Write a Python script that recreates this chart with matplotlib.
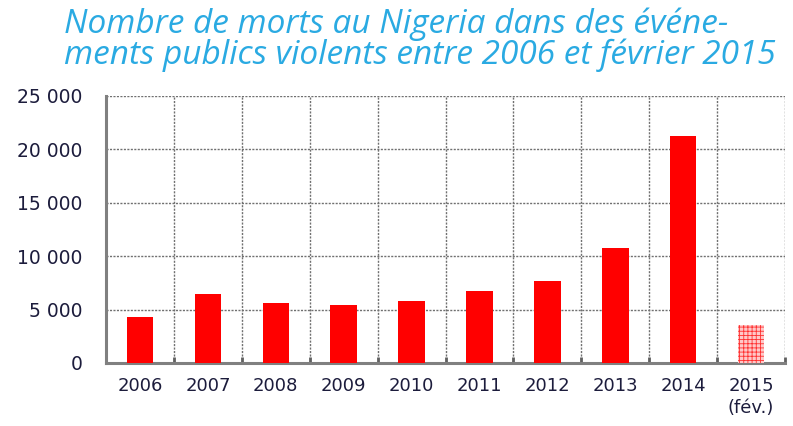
import numpy as np
import matplotlib.pyplot as plt
from matplotlib.ticker import FuncFormatter, MultipleLocator

years = ['2006', '2007', '2008', '2009', '2010', '2011', '2012', '2013', '2014', '2015\n(fév.)']
deaths = [4330, 6430, 5630, 5380, 5780, 6690, 7630, 10790, 21250, 3590]
partial = [False] * 9 + [True]

title_lines = ["Nombre de morts au Nigeria dans des événe-",
               "ments publics violents entre 2006 et février 2015"]

plt.rcParams['hatch.linewidth'] = 0.6
fig = plt.figure(figsize=(7.93, 4.26), dpi=100)
ax = fig.add_axes([0.1337, 0.148, 0.8563, 0.627])

x = np.arange(len(years))
for xi, v, p in zip(x, deaths, partial):
    if p:
        ax.bar(xi, v, width=0.39, color='#ffc8c8', edgecolor='#ff3030',
               hatch='++++', linewidth=0, zorder=3)
    else:
        ax.bar(xi, v, width=0.39, color='#ff0000', linewidth=0, zorder=3)

ax.set_xlim(-0.5, len(years) - 0.5)
ax.set_ylim(0, 25000)
ax.yaxis.set_major_locator(MultipleLocator(5000))
ax.yaxis.set_major_formatter(FuncFormatter(lambda v, _: f'{int(v):,}'.replace(',', ' ')))
ax.set_xticks(x)
ax.set_xticklabels(years, linespacing=1.3)
ax.set_xticks(np.arange(-0.5, len(years)), minor=True)

ax.grid(axis='y', which='major', color='#707070', linestyle=(0, (1.5, 1)), linewidth=1.0, zorder=1)
ax.grid(axis='x', which='minor', color='#707070', linestyle=(0, (1.5, 1)), linewidth=1.0, zorder=1)

for s in ['top', 'right']:
    ax.spines[s].set_visible(False)
for s in ['left', 'bottom']:
    ax.spines[s].set_color('#808080')
    ax.spines[s].set_linewidth(2.2)

ax.tick_params(axis='y', length=0, pad=17, labelsize=13.5, labelcolor='#1c1c3c')
ax.tick_params(axis='x', which='major', length=0, pad=10, labelsize=13, labelcolor='#1c1c3c')
ax.tick_params(axis='x', which='minor', length=4, width=2, color='#606060', direction='in')

for line, yb in zip(title_lines, [1 - 33 / 426, 1 - 64 / 426]):
    fig.text(0.081, yb, line, ha='left', va='baseline', fontsize=24,
             family='Open Sans', style='italic', color='#2aaae2')

fig.savefig('out.png', dpi=100)
